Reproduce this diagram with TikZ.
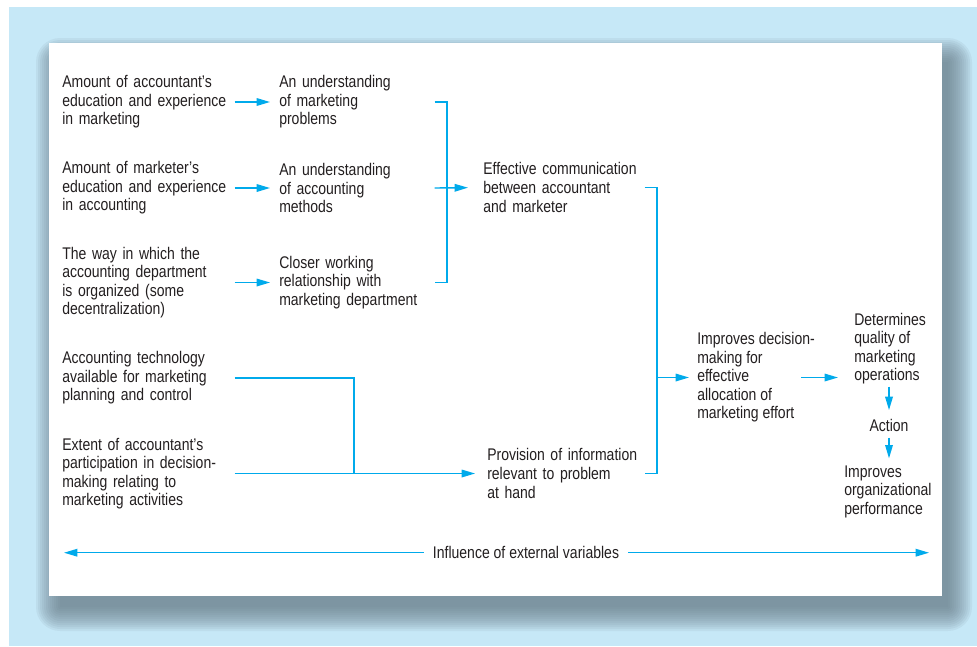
\documentclass[tikz,border=0pt]{standalone}
\usepackage{fontspec}
\setmainfont[FakeStretch=0.83]{Liberation Sans}
\usetikzlibrary{arrows.meta, positioning}
\definecolor{bgblue}{RGB}{198,232,247}
\definecolor{shadowblue}{RGB}{100,120,132}
\definecolor{flowcyan}{RGB}{0,170,235}
\definecolor{inkgray}{RGB}{35,31,32}

\begin{document}
\begin{tikzpicture}[x=0.025cm, y=-0.025cm,
    txt/.style={inner sep=0pt, anchor=west, align=left, text=inkgray,
      font=\fontsize{12pt}{13.2pt}\selectfont},
    cola/.style={txt, text width=4.3cm},
    colb/.style={txt, text width=3.875cm},
    link/.style={draw=flowcyan, line width=1pt},
    flow/.style={link, -{Triangle[length=9.5pt,width=5.4pt]}}]
  % frame and shadow
  \useasboundingbox (0,0) rectangle (977,646);
  \fill[bgblue] (9,7) rectangle (977,646);
  \foreach \k in {0,...,12}
    \fill[shadowblue, opacity=0.09, rounded corners=\k*1.42pt+0.1pt]
      (60-\k*2,62-\k*2) rectangle (948+\k*2,607+\k*2);
  \fill[white] (49,43) rectangle (942,596);

  % left column
  \node[cola] (a1) at (62,102) {Amount of accountant’s\\education and experience\\in marketing};
  \node[cola] (a2) at (62,188) {Amount of marketer’s\\education and experience\\in accounting};
  \node[cola] (a3) at (62,282.5) {The way in which the\\accounting department\\is organized (some\\decentralization)};
  \node[cola] (a4) at (62,378) {Accounting technology\\available for marketing\\planning and control};
  \node[cola] (a5) at (62,473.5) {Extent of accountant’s\\participation in decision-\\making relating to\\marketing activities};

  % second column
  \node[colb] (b1) at (279,102) {An understanding\\of marketing\\problems};
  \node[colb] (b2) at (279,188) {An understanding\\of accounting\\methods};
  \node[colb] (b3) at (279,282.5) {Closer working\\relationship with\\marketing department};

  % third column
  \node[txt, text width=4.025cm] (c1) at (483,187.5) {Effective communication\\between accountant\\and marketer};
  \node[txt, text width=3.925cm] (c2) at (487,473.5) {Provision of information\\relevant to problem\\at hand};

  % right part
  \node[txt] (d) at (697,377.5) {Improves decision-\\making for\\effective\\allocation of\\marketing effort};
  \node[txt] (e) at (854,348.5) {Determines\\quality of\\marketing\\operations};
  \node[txt, anchor=center] (action) at (889,425) {Action};
  \node[txt] (f) at (844,491.5) {Improves\\organizational\\performance};
  \node[txt, anchor=center, inner xsep=6.5pt] (lbl) at (526,552.7) {Influence of external variables};

  % connectors
  \draw[flow, shorten >=6.4pt] (a1.east) -- (b1.west);
  \draw[flow, shorten >=6.4pt] (a2.east) -- (b2.west);
  \draw[flow, shorten >=6.4pt] (a3.east) -- (b3.west);

  \coordinate (j1) at (447,188);
  \draw[link] (b1.east) -| (j1) |- (b3.east);
  \draw[flow, shorten >=10.7pt] (b2.east) -- (c1.west);

  \coordinate (j3) at (354,473.5);
  \draw[link] (a4.east) -| (j3);
  \draw[flow, shorten >=8.5pt] (a5.east) -- (c2.west);

  \coordinate (j2) at (657,377.5);
  \draw[link] (c1.east) -| (j2) |- (c2.east);
  \draw[flow, shorten >=5.7pt] (j2) -- (d.west);

  \coordinate (dout) at (801,377.5);
  \draw[flow, shorten >=11.4pt] (dout) -- (dout -| e.west);
  \draw[flow, shorten <=1.5pt, shorten >=6pt] (e.south -| action.north) -- (action.north);
  \draw[flow, shorten <=4.3pt, shorten >=4.8pt] (action.south) -- (action.south |- f.north);

  \coordinate (extl) at (64,552.7);
  \coordinate (extr) at (929,552.7);
  \draw[flow] (lbl.west) -- (extl);
  \draw[flow] (lbl.east) -- (extr);
\end{tikzpicture}
\end{document}
